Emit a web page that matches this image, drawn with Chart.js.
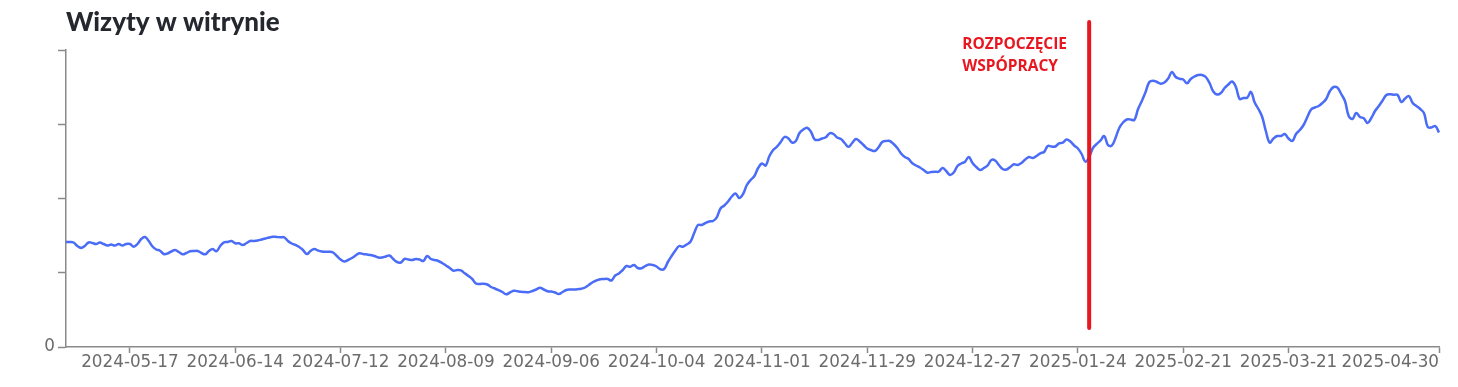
<!DOCTYPE html>
<html lang="pl">
<head>
  <meta charset="UTF-8" />
  <title>Wizyty w witrynie</title>
  <script src="https://cdn.jsdelivr.net/npm/chart.js"></script>
  <style>
    html, body { margin: 0; padding: 0; background: #fff; }
    #wrap { width: 1458px; height: 387px; }
  </style>
</head>
<body>
  <div id="wrap">
    <canvas id="visitsChart" width="1458" height="387"></canvas>
  </div>

  <script>
    // daily dates, 2024-04-30 .. 2025-04-30
    const firstDay = "2024-04-30";
    const dayCount = 366;
    const days = [];
    for (let i = 0; i < dayCount; i++) {
      const d = new Date(firstDay + "T00:00:00Z");
      d.setUTCDate(d.getUTCDate() + i);
      days.push(d.toISOString().slice(0, 10));
    }

    // labelled ticks on the x axis
    const tickDates = [
      "2024-05-17", "2024-06-14", "2024-07-12", "2024-08-09", "2024-09-06",
      "2024-10-04", "2024-11-01", "2024-11-29", "2024-12-27", "2025-01-24",
      "2025-02-21", "2025-03-21", "2025-04-30"
    ];

    // site visits (axis has no scale labels, values read as relative heights)
    const visits = [
      105, 105, 104.5, 101, 99, 101, 104.5, 104, 103, 104.5,
      103, 101.5, 102.5, 101.5, 103, 101.5, 103, 103, 100.3, 103,
      108, 110, 106, 100.5, 97.5, 96.3, 93, 93.5, 95.5, 97,
      95, 92.7, 94, 95.7, 96, 96, 94, 92.7, 96, 98,
      95.7, 101, 104.7, 105, 106, 103.7, 103.7, 102, 104, 106,
      106, 106.5, 107.5, 108.5, 109.5, 110.3, 110, 109.7, 109.7, 106,
      103.5, 102, 100, 97, 93, 96, 98, 96.5, 95.5, 95.3,
      95.3, 94.5, 91, 87.5, 85.5, 87, 89, 91.5, 93.7, 93,
      92.5, 92, 91, 89.5, 89.5, 90.5, 91.5, 88, 85, 84.5,
      88, 87.5, 87, 88, 87.5, 86, 91, 88, 87, 86,
      84, 81.5, 79, 76.3, 77, 76.7, 73.7, 71, 68, 63.5,
      63, 63.3, 62.5, 60, 58.5, 56.8, 55, 52.7, 54.5, 56.3,
      55.8, 55.3, 55, 54.8, 56, 57.5, 59.3, 57.5, 55.8, 55.5,
      54.5, 53, 55, 57, 57.5, 57.5, 57.8, 58.3, 59.5, 62,
      64.7, 66.5, 67.7, 68, 68, 66.5, 71.5, 73.5, 77, 81,
      80.3, 82, 79, 78.7, 81, 82.5, 82, 80.5, 77.7, 78,
      85, 91, 96.5, 101, 100.3, 102.5, 105.3, 114, 122, 122,
      124, 125.5, 126, 129.7, 138.5, 141.5, 145.5, 150.5, 153.5, 149,
      153, 162, 167, 171, 179, 183.5, 181.5, 191, 197, 200.3,
      205, 210, 208.7, 204.5, 206, 214, 217.5, 219.3, 215.5, 207.7,
      207, 208.5, 209.7, 213.7, 213, 209.5, 208, 204, 200.3, 204,
      208, 205.5, 202, 198.5, 197, 196, 199.7, 205, 206, 206,
      203, 199, 193.5, 190, 188, 183.7, 181.5, 179.5, 177, 174.3,
      175, 175.3, 175.3, 179, 176, 172, 174.5, 181, 183.5, 185.3,
      190, 184, 180, 177, 179, 181.5, 187, 186.5, 182, 178,
      177.5, 180, 182.7, 182, 184, 187.5, 190, 189, 191, 193.7,
      195, 201, 200.5, 200.5, 203.7, 204.3, 207.5, 205.5, 201.5, 198.5,
      193, 185.3, 190, 199, 203, 206.5, 211, 202, 201.3, 209,
      219, 224.5, 227.5, 227.5, 227, 238, 246, 255, 265, 266.3,
      265, 263.3, 264.5, 268.5, 275, 270, 268.3, 267.5, 263.7, 268,
      270.5, 272, 272, 270, 264, 255.5, 252.5, 254, 259, 262.5,
      265.5, 260, 248, 249, 249.3, 255, 244.5, 238, 230, 215.5,
      204.5, 208.5, 211, 211, 213, 208.5, 206, 213, 217, 222,
      230, 237.5, 239.5, 241, 244, 248, 256, 260, 259.3, 253,
      246, 231, 228, 234, 230, 228.7, 224, 229, 236, 241,
      246.5, 252, 252.7, 252.3, 252, 245, 248.5, 251, 244, 241,
      238, 234, 220, 219.5, 221, 214.5
    ];

    // y axis: four unlabelled steps above zero
    const yMax = 297;
    const yStep = 74.25;

    // start of cooperation marker
    const markerDate = "2025-01-27";
    const markerText = ["ROZPOCZĘCIE", "WSPÓPRACY"];
    const markerTop = 325;
    const markerBottom = 19;
    const markerTextY = [298, 276];

    const axisGray = "#8a8a8a";
    const labelGray = "#6b6b6b";
    const red = "#e8161f";

    const markerPlugin = {
      id: "startMarker",
      afterDatasetsDraw(chart) {
        const { ctx, scales: { x, y } } = chart;
        const px = x.getPixelForValue(days.indexOf(markerDate));
        ctx.save();
        ctx.strokeStyle = red;
        ctx.lineWidth = 4;
        ctx.lineCap = "round";
        ctx.beginPath();
        ctx.moveTo(px, y.getPixelForValue(markerTop));
        ctx.lineTo(px, y.getPixelForValue(markerBottom));
        ctx.stroke();
        ctx.fillStyle = red;
        ctx.font = 'bold 15.5px "Open Sans"';
        ctx.textAlign = "left";
        ctx.textBaseline = "alphabetic";
        markerText.forEach((t, i) => {
          ctx.fillText(t, px - 127, y.getPixelForValue(markerTextY[i]));
        });
        ctx.restore();
      }
    };

    new Chart(document.getElementById("visitsChart"), {
      type: "line",
      data: {
        labels: days,
        datasets: [{
          label: "Wizyty w witrynie",
          data: visits,
          borderColor: "#4a6cf6",
          borderWidth: 2.5,
          pointRadius: 0,
          fill: false,
          tension: 0.4
        }]
      },
      options: {
        responsive: false,
        animation: false,
        layout: { padding: { top: 0, right: 19, bottom: 0, left: 0 } },
        plugins: {
          legend: { display: false },
          tooltip: { enabled: false },
          title: {
            display: true,
            text: "Wizyty w witrynie",
            align: "start",
            fullSize: false,
            color: "#25272e",
            font: { family: "Lato", size: 26, weight: "900" },
            padding: { top: 7.5, bottom: 11.3 }
          }
        },
        scales: {
          x: {
            afterBuildTicks: (scale) => {
              scale.ticks = scale.ticks.filter(t => t.value === 0 || tickDates.includes(days[t.value]));
            },
            afterFit: (scale) => { scale.height = 40; },
            grid: {
              drawOnChartArea: false,
              drawTicks: true,
              tickLength: 6,
              tickWidth: 1.5,
              tickColor: (c) => (c.tick && c.tick.value === 0) ? "rgba(0,0,0,0)" : axisGray
            },
            border: { color: axisGray, width: 1.5 },
            ticks: {
              autoSkip: false,
              maxRotation: 0,
              align: "inner",
              padding: 0,
              color: labelGray,
              font: { family: "DejaVu Sans", size: 16.8 },
              callback: function (value) {
                return value === 0 ? "" : days[value];
              }
            }
          },
          y: {
            min: 0,
            max: yMax,
            afterFit: (scale) => { scale.width = 66; },
            grid: {
              drawOnChartArea: false,
              drawTicks: true,
              tickLength: 8,
              tickWidth: 1.5,
              tickColor: axisGray
            },
            border: { color: axisGray, width: 1.5 },
            ticks: {
              stepSize: yStep,
              padding: 3,
              color: labelGray,
              font: { family: "DejaVu Sans", size: 16.8 },
              callback: (v) => v === 0 ? "0" : ""
            }
          }
        }
      },
      plugins: [markerPlugin]
    });
  </script>
</body>
</html>
